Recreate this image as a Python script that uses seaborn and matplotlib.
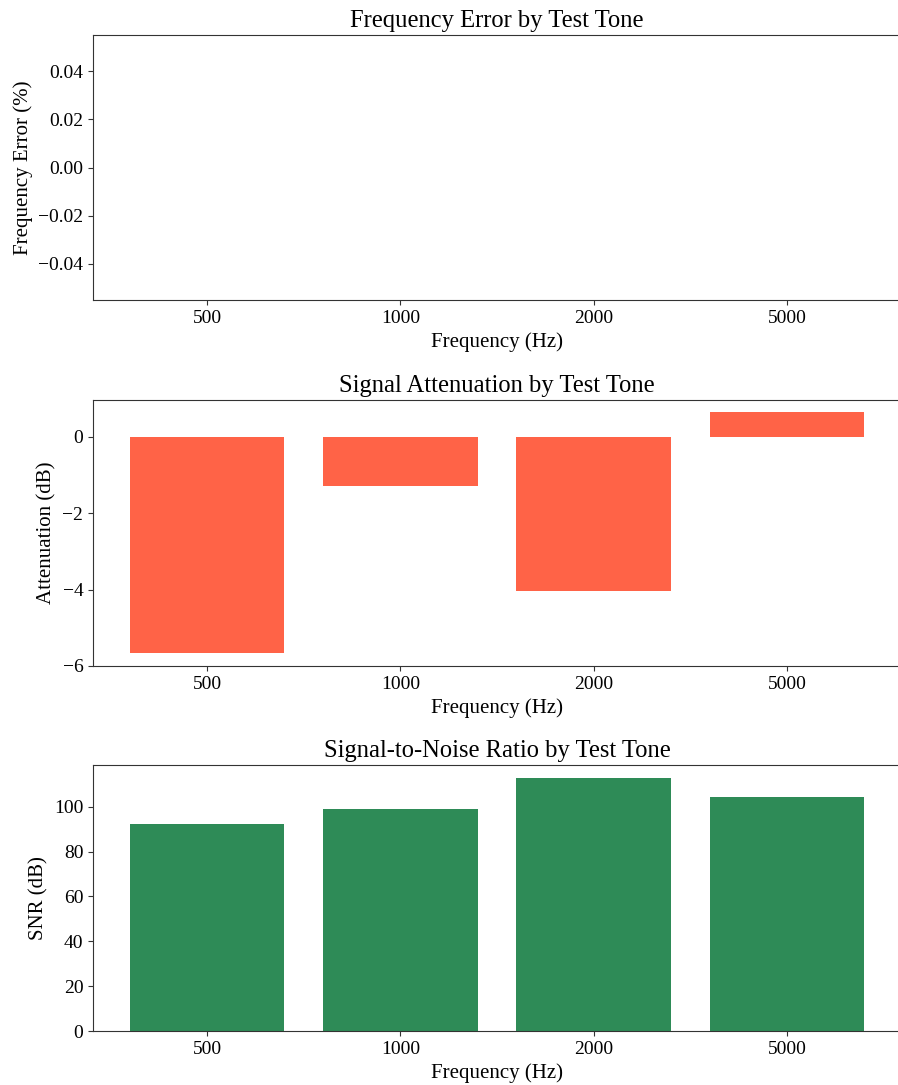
import matplotlib
matplotlib.use("Agg")
import matplotlib.pyplot as plt
from matplotlib.ticker import MultipleLocator
import seaborn as sns
import pandas as pd

# Test tones and measured results
tones = ["500", "1000", "2000", "5000"]
freq_error_pct = [0.0, 0.0, 0.0, 0.0]
attenuation_db = [-5.67, -1.29, -4.05, 0.64]
snr_db = [92.2, 98.8, 113.0, 104.2]

sns.set_style("ticks")
plt.rcParams["font.family"] = ["Liberation Serif", "DejaVu Serif"]
plt.rcParams["axes.edgecolor"] = "#333333"
plt.rcParams["axes.labelcolor"] = "black"
plt.rcParams["text.color"] = "black"
plt.rcParams["xtick.color"] = "#333333"
plt.rcParams["ytick.color"] = "#333333"
plt.rcParams["xtick.labelcolor"] = "black"
plt.rcParams["ytick.labelcolor"] = "black"

df = pd.DataFrame({
    "tone": tones,
    "error": freq_error_pct,
    "atten": attenuation_db,
    "snr": snr_db,
})

W, H = 898, 1085
fig = plt.figure(figsize=(W / 100, H / 100), dpi=100)


def add_axes(top, bottom, left=93, right=901):
    return fig.add_axes([left / W, 1 - bottom / H, (right - left) / W, (bottom - top) / H])


panels = [
    (35, 300, "error", "#FF6347", "Frequency Error by Test Tone", "Frequency Error (%)"),
    (400, 666, "atten", "#FF6347", "Signal Attenuation by Test Tone", "Attenuation (dB)"),
    (765, 1031, "snr", "#2E8B57", "Signal-to-Noise Ratio by Test Tone", "SNR (dB)"),
]

for top, bottom, col, color, title, ylabel in panels:
    ax = add_axes(top, bottom)
    sns.barplot(data=df, x="tone", y=col, order=tones, color=color,
                saturation=1, width=0.8, linewidth=0, ax=ax)
    ax.set_xlim(-0.59, 3.59)
    ax.set_title(title, fontsize=17.7)
    ax.set_xlabel("Frequency (Hz)", fontsize=15)
    ax.set_ylabel(ylabel, fontsize=15)
    ax.tick_params(axis="both", labelsize=14)
    if col == "error":
        ax.set_ylim(-0.055, 0.055)
    elif col == "atten":
        ax.set_ylim(-6.0, 0.955)
        ax.yaxis.set_major_locator(MultipleLocator(2))
    else:
        ax.set_ylim(0, 118.6)

fig.savefig("out.png", dpi=100)
